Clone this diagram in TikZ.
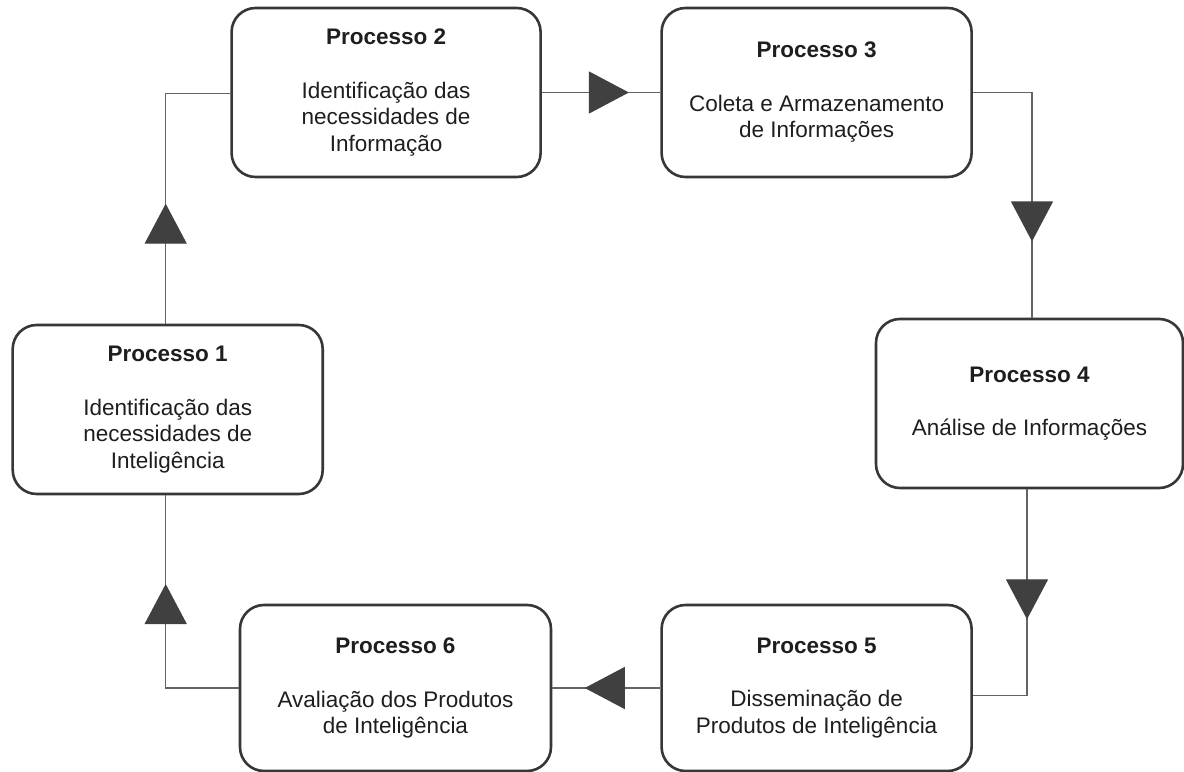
\documentclass[tikz,border=0pt]{standalone}
\usepackage{fontspec}
\setmainfont{Liberation Sans}
\usetikzlibrary{arrows.meta,decorations.markings}
\definecolor{boxline}{RGB}{55,55,55}
\definecolor{linecol}{RGB}{100,100,100}
\definecolor{tricol}{RGB}{64,64,64}
\definecolor{txtcol}{RGB}{30,30,30}
\begin{document}
\begin{tikzpicture}[x=1bp,y=-1bp,
  box/.style={draw=boxline, line width=2.6bp, rounded corners=24bp, fill=white,
    inner sep=0pt, align=center, text=txtcol, minimum height=169bp,
    font=\fontsize{22.5bp}{26.5bp}\selectfont},
  conn/.style={draw=linecol, line width=1.3bp},
  arrowat/.style={postaction={decorate, decoration={markings,
    mark=at position #1 with {\arrow{Triangle[width=42bp,length=40bp,color=tricol,fill=tricol]}}}}}
]
\useasboundingbox (0,0) rectangle (1184,772);
\fill[white] (0,0) rectangle (1184,772);

\node[box, minimum width=310bp] (p1) at (167.7,409.5)
  {\textbf{Processo 1}\\[27bp]Identificação das\\necessidades de\\Inteligência};
\node[box, minimum width=309bp] (p2) at (386.1,92.5)
  {\textbf{Processo 2}\\[27bp]Identificação das\\necessidades de\\Informação};
\node[box, minimum width=310bp] (p3) at (816.6,92.5)
  {\textbf{Processo 3}\\[27bp]Coleta e Armazenamento\\de Informações};
\node[box, minimum width=307bp] (p4) at (1029.5,403.5)
  {\textbf{Processo 4}\\[27bp]Análise de Informações};
\node[box, minimum width=310bp, minimum height=166bp] (p5) at (816.6,688)
  {\textbf{Processo 5}\\[27bp]Disseminação de\\Produtos de Inteligência};
\node[box, minimum width=311bp, minimum height=166bp] (p6) at (395.5,688)
  {\textbf{Processo 6}\\[27bp]Avaliação dos Produtos\\de Inteligência};

\coordinate (k1) at (165.7,93.7);
\coordinate (k3) at (1032,93.7);
\coordinate (k4) at (1027,695.7);
\coordinate (k6) at (165.7,690.7);

\draw[conn, arrowat=120bp] (k1 |- p1.north) -- (k1) -- (k1 -| p2.west);
\draw[conn, arrowat=87bp] (p2.east) -- (p3.west);
\draw[conn, arrowat=208bp] (p3.east) -- (p3.east -| k3) -- (k3 |- p4.north);
\draw[conn, arrowat=130bp] (k4 |- p4.south) -- (k4) -- (k4 -| p5.east);
\draw[conn, arrowat=75.5bp] (p5.west) -- (p6.east);
\draw[conn, arrowat=177bp] (p6.west) -- (p6.west -| k6) -- (k6 |- p1.south);
\end{tikzpicture}
\end{document}
